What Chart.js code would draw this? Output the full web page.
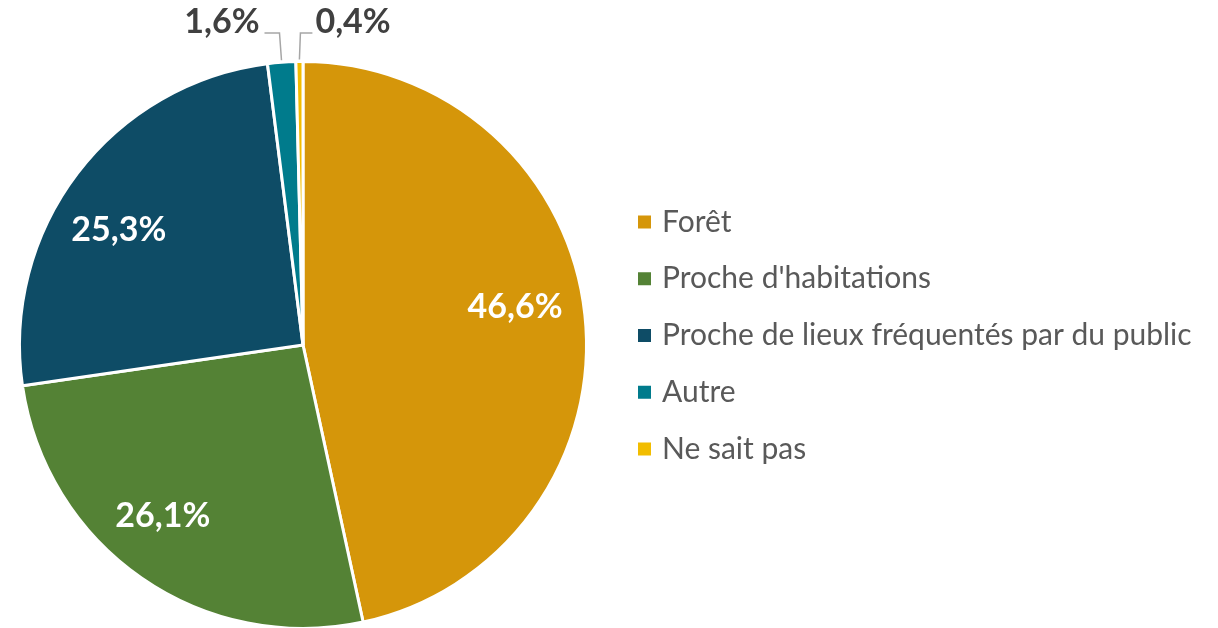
<!DOCTYPE html>
<html><head><meta charset="utf-8">
<script src="https://cdn.jsdelivr.net/npm/chart.js@4.4.1/dist/chart.umd.min.js"></script>
<style>
html,body{margin:0;padding:0;background:#fff;overflow:hidden;}
#wrap{position:relative;width:1218px;height:632px;}
</style></head><body>
<div id="wrap"><canvas id="c" width="1218" height="632"></canvas></div>
<script>
const categories = ["Forêt", "Proche d'habitations", "Proche de lieux fréquentés par du public", "Autre", "Ne sait pas"];
const values = [46.6, 26.1, 25.3, 1.6, 0.4];
const valueLabels = ["46,6%", "26,1%", "25,3%", "1,6%", "0,4%"];
const colors = ["#D5960A", "#548235", "#0E4C66", "#007B8C", "#F2BD00"];

const FONT = "Lato";

const labelPlugin = {
  id: 'labels',
  afterDatasetsDraw(chart) {
    const ctx = chart.ctx;
    const meta = chart.getDatasetMeta(0);
    const angleAdj = [-4, 4.6, -5.4, 0, 0];
    const radFrac = [0.76, 0.78, 0.765, 0, 0];
    ctx.save();
    meta.data.forEach((arc, i) => {
      const {x, y, startAngle, endAngle, outerRadius} = arc.getProps(['x','y','startAngle','endAngle','outerRadius'], true);
      const mid = (startAngle + endAngle) / 2;
      if (values[i] >= 5) {
        const a = mid + angleAdj[i] * Math.PI / 180;
        const r = outerRadius * radFrac[i];
        ctx.font = "bold 34px " + FONT;
        ctx.fillStyle = "#ffffff";
        ctx.textAlign = "center";
        ctx.textBaseline = "middle";
        ctx.fillText(valueLabels[i], x + Math.cos(a) * r, y + Math.sin(a) * r);
      } else {
        const px = x + Math.cos(mid) * (outerRadius + 2);
        const py = y + Math.sin(mid) * (outerRadius + 2);
        const left = i === 3;
        const ey = 33;
        const ex = left ? px - 2 : px + 1;
        const hx = left ? ex - 15 : ex + 12;
        ctx.strokeStyle = "#A6A6A6";
        ctx.lineWidth = 1.5;
        ctx.beginPath();
        ctx.moveTo(px, py);
        ctx.lineTo(ex, ey);
        ctx.lineTo(hx, ey);
        ctx.stroke();
        ctx.font = "bold 34px " + FONT;
        ctx.fillStyle = "#404040";
        ctx.textBaseline = "middle";
        ctx.textAlign = left ? "right" : "left";
        ctx.fillText(valueLabels[i], left ? hx - 5 : hx + 3, 22);
      }
    });
    // legend
    const lx = 638, ly0 = 222, step = 56.75;
    ctx.font = "30px " + FONT;
    ctx.textAlign = "left";
    ctx.textBaseline = "middle";
    categories.forEach((c, i) => {
      const yy = ly0 + i * step;
      ctx.fillStyle = colors[i];
      ctx.fillRect(lx, yy - 6.5, 13, 13);
      ctx.fillStyle = "#595959";
      ctx.fillText(c, lx + 24, yy);
    });
    ctx.restore();
  }
};

new Chart(document.getElementById('c'), {
  type: 'pie',
  data: {
    labels: categories,
    datasets: [{
      data: values,
      backgroundColor: colors,
      borderColor: "#ffffff",
      borderWidth: 3
    }]
  },
  options: {
    responsive: false,
    animation: false,
    layout: {padding: {top: 60, bottom: 2, left: 18, right: 630}},
    plugins: {legend: {display: false}, tooltip: {enabled: false}}
  },
  plugins: [labelPlugin]
});
</script>
</body></html>
